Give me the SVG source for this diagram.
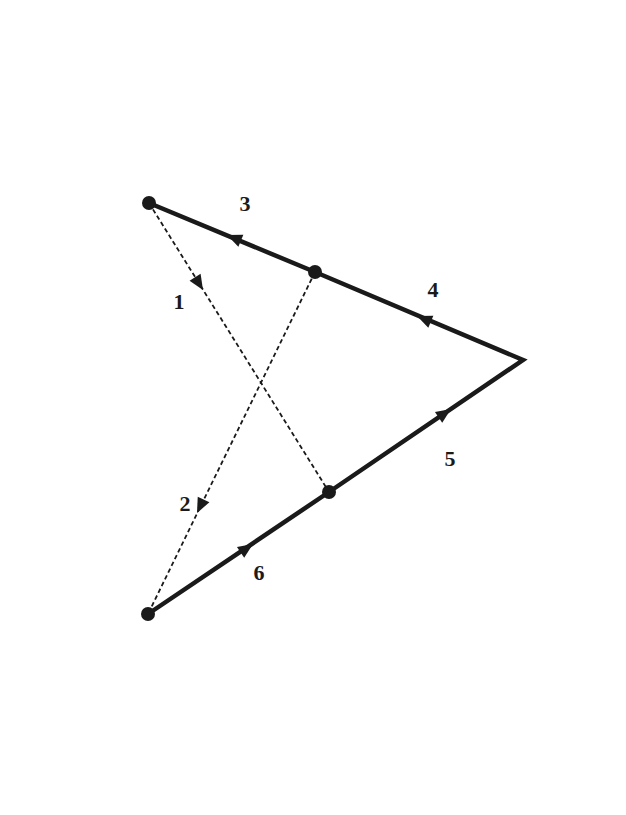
<svg xmlns="http://www.w3.org/2000/svg" xmlns:xlink="http://www.w3.org/1999/xlink" width="626" height="815" viewBox="0 0 626 815">
<style>
.solid{stroke:#1a1a1a;stroke-width:4.5;fill:none;stroke-linecap:round;stroke-linejoin:miter}
.dash{stroke:#1a1a1a;stroke-width:1.8;fill:none;stroke-dasharray:4.5,3}
.node{fill:#1a1a1a}
.lbl{font-family:"Liberation Serif",serif;font-weight:bold;font-size:22px;fill:#1a1a1a;text-anchor:middle}
</style>
<defs>
<path id="ah" d="M0,0 L-15,-6.5 L-15,6.5 Z" fill="#1a1a1a"/>
</defs>
<rect width="626" height="815" fill="#fff"/>
<g id="connectors">
<polyline class="solid" points="149,203 315,272 523,360 329,492 148,614"/>
<line class="dash" x1="149" y1="203" x2="329" y2="492"/>
<line class="dash" x1="315" y1="272" x2="148" y2="614"/>
<use xlink:href="#ah" transform="translate(227,235) rotate(202.6)"/>
<use xlink:href="#ah" transform="translate(417,316) rotate(202.8)"/>
<use xlink:href="#ah" transform="translate(451,409) rotate(-34.1)"/>
<use xlink:href="#ah" transform="translate(253,544) rotate(-34)"/>
<use xlink:href="#ah" transform="translate(203,290) rotate(58.1)"/>
<use xlink:href="#ah" transform="translate(197,513) rotate(116)"/>
</g>
<g id="n1"><circle class="node" cx="149" cy="203" r="7"/></g>
<g id="n2"><circle class="node" cx="315" cy="272" r="7"/></g>
<g id="n3"><circle class="node" cx="329" cy="492" r="7"/></g>
<g id="n4"><circle class="node" cx="148" cy="614" r="7"/></g>
<g id="labels">
<text class="lbl" x="245" y="211">3</text>
<text class="lbl" x="179" y="309">1</text>
<text class="lbl" x="433" y="297">4</text>
<text class="lbl" x="450" y="466">5</text>
<text class="lbl" x="185" y="511">2</text>
<text class="lbl" x="259" y="580">6</text>
</g>
</svg>
